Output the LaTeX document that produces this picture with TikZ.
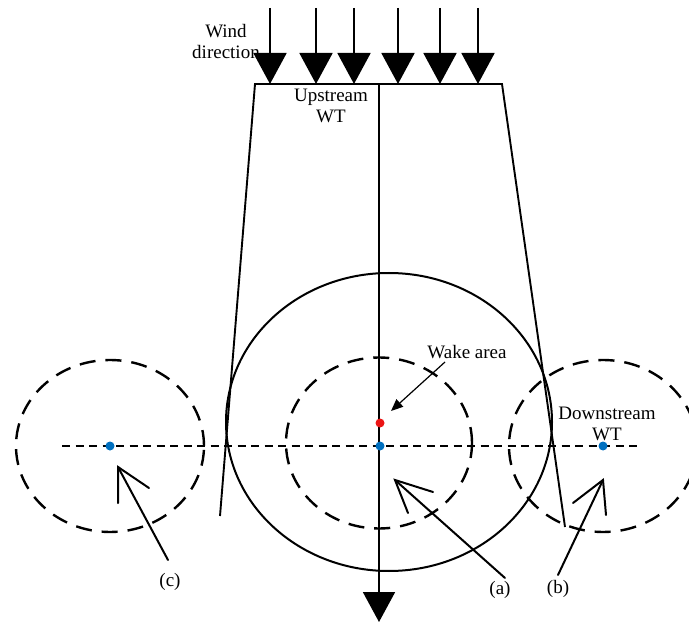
\documentclass[tikz,border=0pt]{standalone}
\usepackage{fontspec}
\setmainfont{Liberation Serif}
\usetikzlibrary{arrows.meta,shapes.geometric}
\definecolor{dotblue}{RGB}{0,112,192}
\definecolor{dotred}{RGB}{235,20,20}
\begin{document}
\begin{tikzpicture}[x=1pt,y=-1pt,
  lbl/.style={font=\fontsize{19}{21}\selectfont, align=center, inner sep=0pt},
  thickline/.style={line width=1.9pt},
  windarrow/.style={line width=1.9pt, -{Triangle[length=31pt,width=33pt]}},
  dashcircle/.style={draw, ellipse, line width=2.4pt, dash pattern=on 16pt off 10pt, inner sep=0pt},
  pointer/.style={line width=2pt, line cap=round},
  dot/.style={circle, inner sep=0pt, minimum size=9pt},
]
\clip (0,0) rectangle (689,623);
\useasboundingbox (0,0) rectangle (689,623);

% circles
\node[draw, ellipse, line width=2pt, inner sep=0pt, minimum width=326pt, minimum height=298pt] (big) at (389,422) {};
\node[dashcircle, minimum width=186pt, minimum height=171pt] (cmid) at (379,443) {};
\node[dashcircle, minimum width=188pt, minimum height=172pt] (cleft) at (110,446) {};
\node[dashcircle, minimum width=188pt, minimum height=172pt] (cright) at (603,446) {};

% horizontal dashed axis
\coordinate (hl) at (62,446);
\coordinate (hr) at (641,446);
\draw[line width=1.2pt, dash pattern=on 8pt off 5.5pt] (hl) -- (hr);

% trapezoid
\coordinate (tl) at (255,84);
\coordinate (tr) at (502,84);
\coordinate (bl) at (220,516);
\coordinate (br) at (565,527);
\draw[thickline, line join=miter] (bl) -- (tl) -- (tr) -- (br);

% center line with arrow
\coordinate (ctop) at (379,84);
\coordinate (cbot) at (379,622);
\draw[line width=1.9pt, -{Triangle[length=30pt,width=32pt]}] (ctop) -- (cbot);

% wind arrows
\foreach \i/\xx in {1/270,2/316,3/354,4/398,5/440,6/478}{
  \coordinate (ws\i) at (\xx,8);
  \coordinate (we\i) at (\xx,84);
  \draw[windarrow] (ws\i) -- (we\i);
}

% dots
\node[dot, fill=dotblue] (dl) at (110,446) {};
\node[dot, fill=dotblue] (dm) at (380,446) {};
\node[dot, fill=dotblue] (dr) at (603,446) {};
\node[dot, fill=dotred] (dred) at (380,423) {};

% labels
\node[lbl] (wind) at (226,42) {Wind\\direction};
\node[lbl] (up) at (331,106) {Upstream\\WT};
\node[lbl] (wake) at (467,352) {Wake area};
\node[lbl] (down) at (607,424) {Downstream\\WT};
\node[lbl] (lc) at (170,582) {(c)};
\node[lbl] (la) at (500,590) {(a)};
\node[lbl] (lb) at (558,589) {(b)};

% wake arrow
\coordinate (wk0) at (445,362);
\coordinate (wk1) at (391,411);
\draw[line width=1.2pt, -{Triangle[length=12pt,width=10pt]}] (wk0) -- (wk1);

% pointer arrows (open V heads)
\coordinate (c0) at (168,560);
\coordinate (c1) at (118,467);
\coordinate (ca) at (118,503);
\coordinate (cb) at (149,488);
\coordinate (a0) at (505,578);
\coordinate (a1) at (395,480);
\coordinate (aa) at (408,513);
\coordinate (ab) at (433,492);
\coordinate (b0) at (558,575);
\coordinate (b1) at (603,480);
\coordinate (ba) at (573,503);
\coordinate (bb) at (606,515);
\draw[pointer] (c0) -- (c1);
\draw[pointer, line join=miter] (ca) -- (c1) -- (cb);
\draw[pointer] (a0) -- (a1);
\draw[pointer, line join=miter] (aa) -- (a1) -- (ab);
\draw[pointer] (b0) -- (b1);
\draw[pointer, line join=miter] (ba) -- (b1) -- (bb);
\end{tikzpicture}
\end{document}
